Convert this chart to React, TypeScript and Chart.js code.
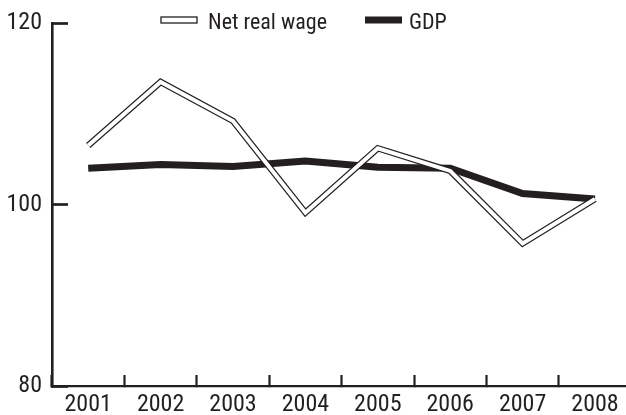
import React, { useEffect, useRef } from "react";
import { Chart, registerables } from "chart.js";

Chart.register(...registerables);

const categories = ["2001", "2002", "2003", "2004", "2005", "2006", "2007", "2008"];
const netRealWage = [106.5, 113.5, 109.2, 99.1, 106.2, 103.7, 95.7, 100.6];
const gdp = [104.0, 104.4, 104.2, 104.8, 104.1, 104.0, 101.2, 100.6];
const yTicks = [80, 100, 120];
const seriesNames = ["Net real wage", "GDP"];

const INK = "#231f20";

function pickFont(): string {
  const candidates = [
    "Roboto Condensed",
    "Liberation Sans Narrow",
    "Arial Narrow",
    "Open Sans Condensed",
    "Noto Sans Condensed",
    "DejaVu Sans Condensed",
  ];
  const c = document.createElement("canvas").getContext("2d");
  if (!c) return "sans-serif";
  const probe = "Net real wage 2001 GDP";
  for (const f of candidates) {
    c.font = `40px '${f}', monospace`;
    const a = c.measureText(probe).width;
    c.font = `40px '${f}', serif`;
    const b = c.measureText(probe).width;
    if (Math.abs(a - b) < 0.01) return `'${f}'`;
  }
  return "sans-serif";
}

export default function App() {
  const canvasRef = useRef<HTMLCanvasElement | null>(null);

  useEffect(() => {
    if (!canvasRef.current) return;
    const FONT = pickFont();

    const legendPlugin = {
      id: "customLegend",
      afterDraw(chart: any) {
        const ctx = chart.ctx as CanvasRenderingContext2D;
        ctx.save();
        ctx.fillStyle = "#ffffff";
        ctx.strokeStyle = INK;
        ctx.lineWidth = 1.3;
        ctx.fillRect(161, 17, 36, 6);
        ctx.strokeRect(161, 17, 36, 6);
        ctx.fillStyle = INK;
        ctx.fillRect(365, 16.5, 37, 7);
        ctx.font = `22px ${FONT}`;
        ctx.textBaseline = "alphabetic";
        ctx.textAlign = "left";
        ctx.fillStyle = INK;
        ctx.fillText(seriesNames[0], 208, 28.5);
        ctx.fillText(seriesNames[1], 409, 28.5);
        ctx.restore();
      },
    };

    const zeroPad = (s: any) => {
      s.paddingTop = 0;
      s.paddingBottom = 0;
      s.paddingLeft = 0;
      s.paddingRight = 0;
    };

    const chart = new Chart(canvasRef.current, {
      type: "line",
      data: {
        labels: categories,
        datasets: [
          {
            label: seriesNames[0] + " inner",
            data: netRealWage,
            borderColor: "#ffffff",
            borderWidth: 4,
            borderJoinStyle: "miter",
            borderCapStyle: "butt",
            pointRadius: 0,
            tension: 0,
            fill: false,
          },
          {
            label: seriesNames[0],
            data: netRealWage,
            borderColor: INK,
            borderWidth: 6.4,
            borderJoinStyle: "miter",
            borderCapStyle: "butt",
            pointRadius: 0,
            tension: 0,
            fill: false,
          },
          {
            label: seriesNames[1],
            data: gdp,
            borderColor: INK,
            borderWidth: 7,
            borderJoinStyle: "miter",
            borderCapStyle: "butt",
            pointRadius: 0,
            tension: 0,
            fill: false,
          },
        ],
      },
      options: {
        animation: false,
        responsive: false,
        devicePixelRatio: 1,
        events: [],
        layout: { padding: { left: 0, right: 28.8, top: 23, bottom: 0 } },
        plugins: {
          legend: { display: false },
          tooltip: { enabled: false },
        },
        scales: {
          x: {
            type: "category",
            offset: true,
            afterFit: (s: any) => {
              s.height = 29;
              zeroPad(s);
            },
            grid: {
              offset: true,
              drawOnChartArea: false,
              drawTicks: true,
              tickLength: -11,
              tickWidth: 2.2,
              tickColor: INK,
              color: INK,
            },
            border: { display: true, color: INK, width: 2.2 },
            ticks: {
              color: INK,
              padding: 16,
              maxRotation: 0,
              autoSkip: false,
              font: { family: FONT, size: 24 },
            },
          },
          y: {
            min: 80,
            max: 120,
            afterFit: (s: any) => {
              s.width = 52;
              zeroPad(s);
            },
            afterBuildTicks: (s: any) => {
              s.ticks = yTicks.map((v) => ({ value: v }));
            },
            grid: {
              drawOnChartArea: false,
              drawTicks: true,
              tickLength: -16,
              tickWidth: 2.7,
              tickColor: INK,
              color: INK,
            },
            border: { display: true, color: INK, width: 2.6 },
            ticks: {
              color: INK,
              padding: 26,
              font: { family: FONT, size: 24 },
            },
          },
        },
      },
      plugins: [legendPlugin],
    } as any);
    return () => chart.destroy();
  }, []);

  return (
    <div
      style={{
        position: "fixed",
        left: 0,
        top: 0,
        width: 626,
        height: 415,
        overflow: "hidden",
        background: "#ffffff",
      }}
    >
      <canvas ref={canvasRef} width={660} height={415} style={{ display: "block" }} />
    </div>
  );
}
